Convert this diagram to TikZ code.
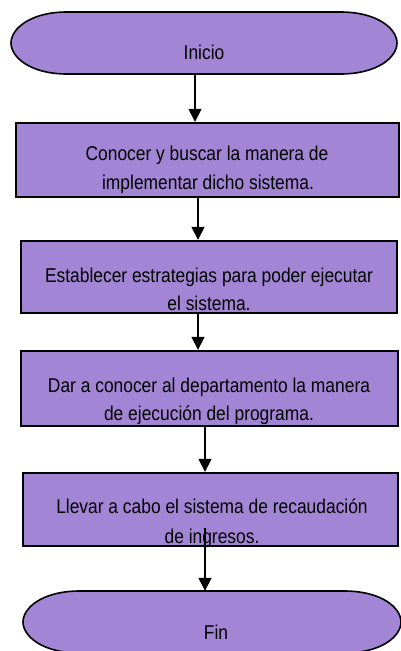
\documentclass[tikz,border=0pt]{standalone}
\usepackage{fontspec}
\setmainfont{Liberation Sans}[FakeStretch=0.87]
\usetikzlibrary{arrows.meta}
\definecolor{purp}{HTML}{A385D5}
\begin{document}
\begin{tikzpicture}[x=1pt,y=-1pt,
  box/.style={draw=black,line width=2.4pt,fill=purp,inner sep=0pt},
  anchorbox/.style={inner sep=0pt,draw=none},
  tline/.style={draw=black,line width=1.6pt,fill=purp},
  txt/.style={anchor=base,inner sep=0pt,font=\fontsize{20}{24}\selectfont},
  arr/.style={line width=1.6pt,-{Triangle[width=13pt,length=13pt]}}]
\useasboundingbox (0,0) rectangle (401,651);
% Inicio terminator
\draw[tline] (67,12) -- (340,12) .. controls (378,12) and (397,29) .. (397,43)
  .. controls (397,57) and (378,74) .. (340,74) -- (67,74)
  .. controls (30,74) and (11,57) .. (11,43) .. controls (11,29) and (30,12) .. (67,12) -- cycle;
\node[anchorbox,minimum width=386pt,minimum height=62pt] (inicio) at (204,43) {};
\node[txt] (tinicio) at (204,59) {Inicio};
% Boxes
\node[box,minimum width=383pt,minimum height=74pt] (b1) at (207.5,160) {};
\node[txt] (t1a) at (207,160) {Conocer y buscar la manera de};
\node[txt] (t1b) at (208,189) {implementar dicho sistema.};
\node[box,minimum width=376pt,minimum height=72pt] (b2) at (209,277) {};
\node[txt] (t2a) at (209,282) {Establecer estrategias para poder ejecutar};
\node[txt] (t2b) at (209,310) {el sistema.};
\node[box,minimum width=377pt,minimum height=75pt] (b3) at (209.5,388.5) {};
\node[txt] (t3a) at (209,392) {Dar a conocer al departamento la manera};
\node[txt] (t3b) at (209,420) {de ejecución del programa.};
\node[box,minimum width=375pt,minimum height=73pt] (b4) at (210.5,509.5) {};
\node[txt] (t4a) at (212,513) {Llevar a cabo el sistema de recaudación};
\node[txt] (t4b) at (212,543) {de ingresos.};
% Fin terminator
\draw[tline] (80,591) -- (344,591) .. controls (382,591) and (401,608) .. (401,622)
  .. controls (401,636) and (382,653) .. (344,653) -- (80,653)
  .. controls (42,653) and (23,636) .. (23,622) .. controls (23,608) and (42,591) .. (80,591) -- cycle;
\node[anchorbox,minimum width=378pt,minimum height=62pt] (fin) at (212,622) {};
\node[txt] (tfin) at (216,639) {Fin};
% arrow columns
\coordinate (ax1) at (195,0);
\coordinate (ax2) at (198,0);
\coordinate (ax3) at (198,0);
\coordinate (ax4) at (205,0);
\coordinate (ax5) at (205,0);
\draw[arr] (inicio.south -| ax1) -- (b1.north -| ax1);
\draw[arr] (b1.south -| ax2) -- (b2.north -| ax2);
\draw[arr] (b2.south -| ax3) -- (b3.north -| ax3);
\draw[arr] (b3.south -| ax4) -- (b4.north -| ax4);
\draw[arr] (t4b.north -| ax5) -- (fin.north -| ax5);
\end{tikzpicture}
\end{document}
